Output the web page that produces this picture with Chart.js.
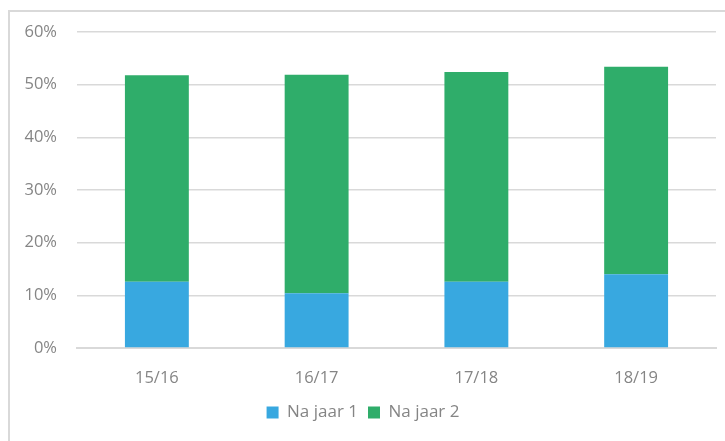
<!DOCTYPE html>
<html>
<head>
<meta charset="utf-8">
<script src="https://cdn.jsdelivr.net/npm/chart.js@4"></script>
<style>
  html, body { margin: 0; padding: 0; background: #fff; }
  body { width: 725px; height: 441px; position: relative; overflow: hidden; }
  #frame { position: absolute; left: 8px; top: 10px; width: 740px; height: 460px;
           border-left: 2px solid #d9d9d9; border-top: 2px solid #d9d9d9; box-sizing: border-box; }
  #wrap { position: absolute; left: 0; top: 0; width: 725px; height: 441px; }
</style>
</head>
<body>
<div id="frame"></div>
<div id="wrap"><canvas id="c" width="725" height="441"></canvas></div>
<script>
const categories = ['15/16', '16/17', '17/18', '18/19'];
const naJaar1 = [12.6, 10.4, 12.6, 14.0];
const naJaar2 = [39.2, 41.5, 39.8, 39.4];
const yTicks = [0, 10, 20, 30, 40, 50, 60];

const textColor = '#858585';
const fontFamily = '"Open Sans", "Noto Sans", sans-serif';

new Chart(document.getElementById('c'), {
  type: 'bar',
  data: {
    labels: categories,
    datasets: [
      { label: 'Na jaar 1', data: naJaar1, backgroundColor: '#38a8e0', borderWidth: 0 },
      { label: 'Na jaar 2', data: naJaar2, backgroundColor: '#2fad6a', borderWidth: 0 }
    ]
  },
  options: {
    responsive: false,
    animation: false,
    devicePixelRatio: 1,
    layout: { padding: { left: 10, right: 9, top: 32, bottom: 10 } },
    datasets: { bar: { categoryPercentage: 1.0, barPercentage: 0.4 } },
    plugins: {
      title: { display: false },
      tooltip: { enabled: false },
      legend: {
        position: 'bottom',
        labels: {
          color: textColor,
          font: { family: fontFamily, size: 17 },
          boxWidth: 12, boxHeight: 12,
          padding: 10
        }
      }
    },
    scales: {
      x: {
        stacked: true,
        grid: { display: false, drawTicks: false },
        border: { display: true, color: '#d9d9d9', width: 2 },
        ticks: { color: textColor, font: { family: fontFamily, size: 16.5 }, padding: 20 },
        afterFit: s => { s.height = 46; }
      },
      y: {
        stacked: true,
        min: 0, max: 60,
        afterBuildTicks: s => { s.ticks = yTicks.map(v => ({ value: v })); },
        grid: { color: '#d9d9d9', lineWidth: 1.5, drawTicks: false },
        border: { display: false },
        ticks: {
          color: textColor, font: { family: fontFamily, size: 16.5 }, padding: 20,
          callback: v => v + '%'
        },
        afterFit: s => { s.width = 67; }
      }
    }
  }
});
</script>
</body>
</html>
